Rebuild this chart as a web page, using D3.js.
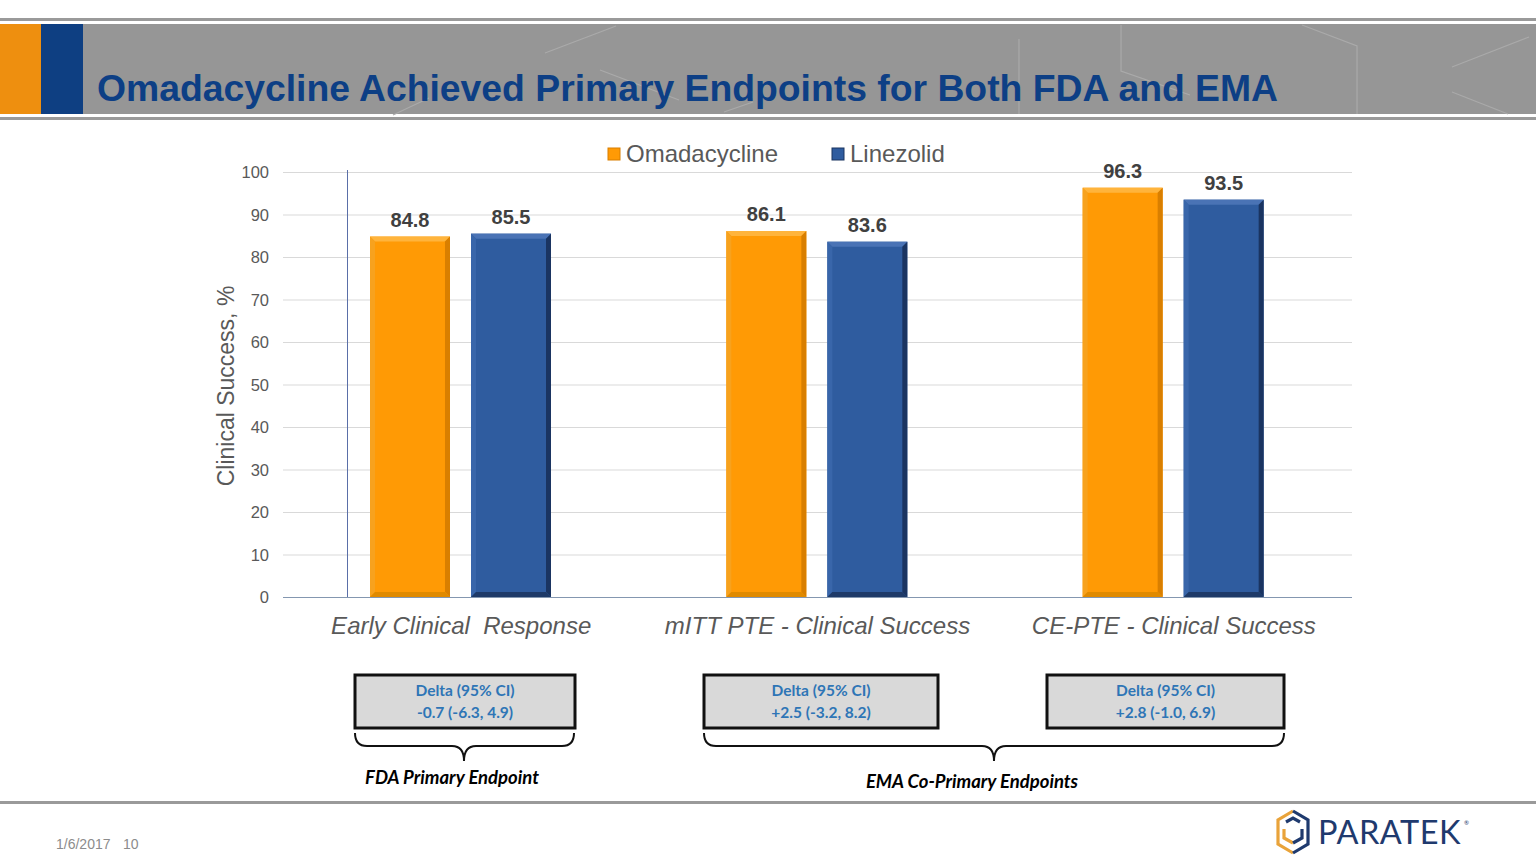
<!DOCTYPE html>
<html>
<head>
<meta charset="utf-8">
<script src="https://cdn.jsdelivr.net/npm/d3@7"></script>
<style>
html,body{margin:0;padding:0;background:#fff;}
svg{display:block;}
</style>
</head>
<body>
<svg id="chart" width="1536" height="864"></svg>
<script>
// ---------- data ----------
const categories = ["Early Clinical  Response", "mITT PTE - Clinical Success", "CE-PTE - Clinical Success"];
const seriesNames = ["Omadacycline", "Linezolid"];
const omadacycline = [84.8, 86.1, 96.3];
const linezolid = [85.5, 83.6, 93.5];
const yTicks = [0, 10, 20, 30, 40, 50, 60, 70, 80, 90, 100];
const deltaTitles = ["Delta (95% CI)", "Delta (95% CI)", "Delta (95% CI)"];
const deltaValues = ["-0.7 (-6.3, 4.9)", "+2.5 (-3.2, 8.2)", "+2.8 (-1.0, 6.9)"];
const braceLabels = ["FDA Primary Endpoint", "EMA Co-Primary Endpoints"];
const titleText = "Omadacycline Achieved Primary Endpoints for Both FDA and EMA";
const yTitle = "Clinical Success, %";
const footerDate = "1/6/2017";
const footerPage = "10";

const svg = d3.select("#chart");

// ---------- header ----------
svg.append("rect").attr("x", 0).attr("y", 18).attr("width", 1536).attr("height", 3).attr("fill", "#9a9a9a");
svg.append("rect").attr("x", 0).attr("y", 24).attr("width", 1536).attr("height", 90).attr("fill", "#969696");
svg.append("rect").attr("x", 0).attr("y", 117).attr("width", 1536).attr("height", 3).attr("fill", "#9a9a9a");
const deco = [
  [[545,53],[616,26]], [[600,70],[679,100]], [[393,115],[429,98]],
  [[1019,39],[1019,114]], [[1121,25],[1121,71],[1190,95]],
  [[1302,25],[1357,46],[1357,114]], [[1452,67],[1529,37]], [[1452,92],[1508,114]],
  [[724,112],[753,102]]
];
deco.forEach(pts => {
  svg.append("path").attr("d", d3.line()(pts)).attr("fill", "none")
    .attr("stroke", "#aaaaaa").attr("stroke-width", 1.2);
});
svg.append("rect").attr("x", 0).attr("y", 24).attr("width", 41).attr("height", 90).attr("fill", "#EE8F0F");
svg.append("rect").attr("x", 41).attr("y", 24).attr("width", 42).attr("height", 90).attr("fill", "#0E3F82");
svg.append("text").attr("x", 97).attr("y", 101)
  .attr("font-family", "Liberation Sans, Arial, sans-serif").attr("font-weight", "bold")
  .attr("font-size", 37).attr("fill", "#0D3F85")
  .attr("textLength", 1181).attr("lengthAdjust", "spacingAndGlyphs")
  .text(titleText);

// ---------- chart ----------
const plotLeft = 283, plotRight = 1352, plotTop = 172, plotBottom = 597;
const y = d3.scaleLinear().domain([0, 100]).range([plotBottom, plotTop]);
const x0 = d3.scaleBand().domain(categories).range([plotLeft, plotRight]).padding(0);
const x1 = d3.scaleBand().domain(seriesNames).range([87, 268]).paddingInner(0.208).paddingOuter(0);

const g = svg.append("g");
// grid
g.selectAll("line.grid").data(yTicks.filter(t => t > 0)).enter().append("line")
  .attr("x1", plotLeft).attr("x2", plotRight)
  .attr("y1", d => y(d) + 0.5).attr("y2", d => y(d) + 0.5)
  .attr("stroke", "#D9D9D9").attr("stroke-width", 1);

// y axis labels via axis
const yAxis = d3.axisLeft(y).tickValues(yTicks).tickSize(0).tickPadding(0);
const yAxisG = g.append("g").attr("transform", `translate(269,0)`).call(yAxis);
yAxisG.select(".domain").remove();
yAxisG.selectAll("text").attr("font-family", "Liberation Sans, Arial, sans-serif")
  .attr("font-size", 16.5).attr("fill", "#595959").attr("dy", "0.35em");

// vertical line
g.append("line").attr("x1", 347.5).attr("x2", 347.5).attr("y1", 170).attr("y2", plotBottom)
  .attr("stroke", "#5A6FA8").attr("stroke-width", 1);

// bars
const colors = {
  Omadacycline: {main: "#FF9A05", light: "#FFB43C", side: "#F7A21E", dark: "#D97F00", bottom: "#E08A00"},
  Linezolid: {main: "#2F5C9F", light: "#4A73B5", side: "#3966AA", dark: "#1A3461", bottom: "#1E3A68"}
};
const barData = [];
categories.forEach((c, i) => {
  barData.push({cat: c, s: "Omadacycline", v: omadacycline[i]});
  barData.push({cat: c, s: "Linezolid", v: linezolid[i]});
});
const b = 5;
barData.forEach(d => {
  const bx = x0(d.cat) + x1(d.s), bw = x1.bandwidth();
  const by = y(d.v), bh = y(0) - y(d.v);
  const c = colors[d.s];
  const bg = g.append("g");
  bg.append("rect").attr("x", bx).attr("y", by).attr("width", bw).attr("height", bh).attr("fill", c.main);
  const poly = (pts, fill) => bg.append("polygon").attr("points", pts.map(p => p.join(",")).join(" ")).attr("fill", fill);
  poly([[bx, by], [bx + bw, by], [bx + bw - b, by + b], [bx + b, by + b]], c.light);
  poly([[bx, by], [bx + b, by + b], [bx + b, by + bh - b], [bx, by + bh]], c.side);
  poly([[bx + bw, by], [bx + bw, by + bh], [bx + bw - b, by + bh - b], [bx + bw - b, by + b]], c.dark);
  poly([[bx, by + bh], [bx + b, by + bh - b], [bx + bw - b, by + bh - b], [bx + bw, by + bh]], c.bottom);
  g.append("text").attr("x", bx + bw / 2).attr("y", by - 10)
    .attr("text-anchor", "middle").attr("font-family", "Liberation Sans, Arial, sans-serif")
    .attr("font-weight", "bold").attr("font-size", 20).attr("fill", "#404040")
    .text(d.v.toFixed(1));
});

// baseline
g.append("line").attr("x1", plotLeft).attr("x2", plotRight).attr("y1", plotBottom + 0.5).attr("y2", plotBottom + 0.5)
  .attr("stroke", "#8497B0").attr("stroke-width", 1);

// x axis labels
const xAxis = d3.axisBottom(x0).tickSize(0).tickPadding(0);
const xAxisG = g.append("g").attr("transform", `translate(0,${plotBottom})`).call(xAxis);
xAxisG.select(".domain").remove();
xAxisG.selectAll("text").attr("dy", null).attr("y", 37)
  .attr("font-family", "Liberation Sans, Arial, sans-serif").attr("font-style", "italic")
  .attr("font-size", 24).attr("fill", "#595959").style("white-space", "pre").attr("xml:space", "preserve");

// y title
g.append("text").attr("transform", "translate(234,386) rotate(-90)")
  .attr("text-anchor", "middle").attr("font-family", "Liberation Sans, Arial, sans-serif")
  .attr("font-size", 23).attr("fill", "#595959").text(yTitle);

// legend
const legendX = [608, 832];
seriesNames.forEach((s, i) => {
  const c = colors[s];
  g.append("rect").attr("x", legendX[i]).attr("y", 148).attr("width", 12).attr("height", 12)
    .attr("fill", c.main).attr("stroke", c.dark).attr("stroke-width", 1);
  g.append("text").attr("x", legendX[i] + 18).attr("y", 162)
    .attr("font-family", "Liberation Sans, Arial, sans-serif").attr("font-size", 24)
    .attr("fill", "#595959").text(s);
});

// ---------- delta boxes ----------
const boxes = [{x: 355, w: 220}, {x: 704, w: 234}, {x: 1047, w: 237}];
boxes.forEach((bxo, i) => {
  svg.append("rect").attr("x", bxo.x).attr("y", 675).attr("width", bxo.w).attr("height", 53)
    .attr("fill", "#D9D9D9").attr("stroke", "#111").attr("stroke-width", 3);
  svg.append("text").attr("x", bxo.x + bxo.w / 2).attr("y", 696).attr("text-anchor", "middle")
    .attr("font-family", "Lato, 'Open Sans', sans-serif").attr("font-weight", "bold")
    .attr("font-size", 15.5).attr("fill", "#2E75B6").text(deltaTitles[i]);
  svg.append("text").attr("x", bxo.x + bxo.w / 2).attr("y", 718).attr("text-anchor", "middle")
    .attr("font-family", "Lato, 'Open Sans', sans-serif").attr("font-weight", "bold")
    .attr("font-size", 15.5).attr("fill", "#2E75B6").text(deltaValues[i]);
});

// braces
function brace(x1b, x2b, tip, yTop, yMid, yTip) {
  const r = 12;
  return `M${x1b},${yTop} Q${x1b},${yMid} ${x1b + r},${yMid} L${tip - r},${yMid} Q${tip},${yMid} ${tip},${yTip} ` +
         `Q${tip},${yMid} ${tip + r},${yMid} L${x2b - r},${yMid} Q${x2b},${yMid} ${x2b},${yTop}`;
}
svg.append("path").attr("d", brace(355, 574, 464, 733, 746, 761)).attr("fill", "none").attr("stroke", "#111").attr("stroke-width", 2);
svg.append("path").attr("d", brace(704, 1284, 994, 733, 746, 761)).attr("fill", "none").attr("stroke", "#111").attr("stroke-width", 2);
svg.append("text").attr("x", 452).attr("y", 784).attr("text-anchor", "middle")
  .attr("font-family", "Lato, 'Open Sans', sans-serif").attr("font-weight", "bold").attr("font-style", "italic")
  .attr("font-size", 18.5).attr("fill", "#000").text(braceLabels[0]);
svg.append("text").attr("x", 972).attr("y", 788).attr("text-anchor", "middle")
  .attr("font-family", "Lato, 'Open Sans', sans-serif").attr("font-weight", "bold").attr("font-style", "italic")
  .attr("font-size", 18.5).attr("fill", "#000").text(braceLabels[1]);

// ---------- footer ----------
svg.append("rect").attr("x", 0).attr("y", 801).attr("width", 1536).attr("height", 3).attr("fill", "#9a9a9a");
svg.append("text").attr("x", 56).attr("y", 849).attr("font-family", "Liberation Sans, Arial, sans-serif")
  .attr("font-size", 14).attr("fill", "#8c8c8c").text(footerDate);
svg.append("text").attr("x", 123).attr("y", 849).attr("font-family", "Liberation Sans, Arial, sans-serif")
  .attr("font-size", 14).attr("fill", "#8c8c8c").text(footerPage);

// logo
const lg = svg.append("g").attr("fill", "none").attr("stroke-width", 3.2).attr("stroke-linejoin", "miter");
lg.append("path").attr("d", "M1293,811 L1278,820 L1278,844 L1293,853").attr("stroke", "#E9A33A");
lg.append("path").attr("d", "M1293,811 L1308,820 L1308,844 L1293,853").attr("stroke", "#1F3A6E");
lg.append("path").attr("d", "M1286,822 L1293,818 L1300,822").attr("stroke", "#1F3A6E");
lg.append("path").attr("d", "M1284,829 L1284,838 L1293,843").attr("stroke", "#E9A33A");
lg.append("path").attr("d", "M1302,829 L1302,838 L1293,843").attr("stroke", "#1F3A6E");
svg.append("text").attr("x", 1318).attr("y", 844).attr("font-family", "Lato, 'Open Sans', sans-serif")
  .attr("font-size", 32).attr("fill", "#1F3A6E").attr("letter-spacing", 0.5)
  .attr("textLength", 143).attr("lengthAdjust", "spacingAndGlyphs").text("PARATEK");
svg.append("text").attr("x", 1464).attr("y", 825).attr("font-family", "Lato, sans-serif")
  .attr("font-size", 6).attr("fill", "#1F3A6E").text("®");
</script>
</body>
</html>
